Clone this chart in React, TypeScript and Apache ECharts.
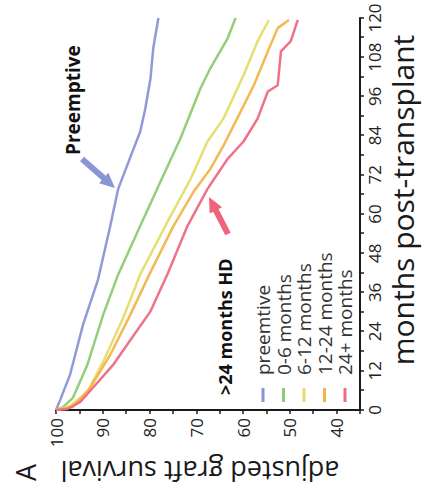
import React, { useEffect, useRef } from "react";
import * as echarts from "echarts";

// Data read from the (rotated) reference: [month, adjusted graft survival %]
const seriesNames = ["preemtive", "0-6 months", "6-12 months", "12-24 months", "24+ months"];
const seriesColors = ["#8b95d5", "#8ecb74", "#e6dc6a", "#f2b54a", "#ef6a82"];

const preemptive: number[][] = [
  [0, 100], [3.1, 99.1], [10.8, 97.0], [26.2, 94.2], [40, 91.0], [56.3, 88.4],
  [67.7, 86.7], [74.8, 84.8], [81.5, 83.0], [85.2, 82.0], [92.3, 80.9],
  [101.5, 79.8], [110.8, 79.2], [120, 78.1],
];
const hd0to6: number[][] = [
  [0, 100], [0.9, 98.5], [3.7, 96.4], [13.8, 93.3], [29.2, 89.9], [41.5, 86.7],
  [56.3, 82.0], [69.8, 77.7], [83.1, 73.4], [98.5, 69.1], [104.6, 67.0],
  [113.8, 63.3], [120, 61.6],
];
const hd6to12: number[][] = [
  [0, 100], [1.2, 97.0], [5.5, 93.3], [14.8, 89.9], [28.3, 85.6], [41.5, 82.0],
  [57.5, 76.2], [70.8, 71.2], [82.2, 67.6], [89.2, 64.2], [102.5, 59.9],
  [112.9, 56.9], [119.4, 54.5],
];
const hd12to24: number[][] = [
  [0, 100], [0.9, 96.4], [6.8, 92.7], [16.9, 88.4], [29.2, 84.1], [42.2, 79.8],
  [56.3, 74.9], [66.8, 70.6], [73.8, 67.0], [80.9, 64.2], [91.4, 60.5],
  [99.4, 57.7], [109.8, 54.7], [116.9, 52.6], [119.4, 50.2],
];
const hd24plus: number[][] = [
  [0, 100], [0.3, 97.6], [2.5, 94.8], [6.8, 92.1], [13.8, 87.8], [20, 84.8],
  [30.2, 79.8], [41.5, 76.2], [56.3, 71.9], [67.7, 67.6], [76.9, 63.3],
  [82.2, 59.9], [89.2, 56.9], [97.5, 54.7], [99.4, 52.6], [109.8, 51.9],
  [112.9, 49.8], [119.4, 48.3],
];
const allSeries = [preemptive, hd0to6, hd6to12, hd12to24, hd24plus];

const FONT = "'Open Sans', 'Noto Sans', sans-serif";
const W = 496;
const H = 424;

function arrowPoints(tail: number[], tip: number[], shaft: number, headW: number, headL: number) {
  const dx = tip[0] - tail[0];
  const dy = tip[1] - tail[1];
  const len = Math.hypot(dx, dy);
  const ux = dx / len, uy = dy / len;
  const nx = -uy, ny = ux;
  const bx = tip[0] - ux * headL, by = tip[1] - uy * headL;
  return [
    [tail[0] + nx * shaft / 2, tail[1] + ny * shaft / 2],
    [bx + nx * shaft / 2, by + ny * shaft / 2],
    [bx + nx * headW / 2, by + ny * headW / 2],
    [tip[0], tip[1]],
    [bx - nx * headW / 2, by - ny * headW / 2],
    [bx - nx * shaft / 2, by - ny * shaft / 2],
    [tail[0] - nx * shaft / 2, tail[1] - ny * shaft / 2],
  ];
}

export default function App() {
  const ref = useRef<HTMLDivElement>(null);
  useEffect(() => {
    if (!ref.current) return;
    const chart = echarts.init(ref.current, null, { renderer: "svg" });
    chart.setOption({
      animation: false,
      backgroundColor: "#ffffff",
      grid: { left: 86, right: 18, top: 56, bottom: 64, containLabel: false },
      xAxis: {
        type: "value",
        min: 0,
        max: 120,
        interval: 6,
        name: "months post-transplant",
        nameLocation: "middle",
        nameGap: 26,
        nameTextStyle: { fontSize: 30, color: "#1a1a1a", fontFamily: FONT, padding: [0, 0, 0, 28] },
        axisLine: { show: true, lineStyle: { color: "#1a1a1a", width: 2 } },
        axisTick: { show: true, length: 4, lineStyle: { color: "#1a1a1a", width: 1.5 } },
        axisLabel: {
          fontSize: 17, color: "#222", fontFamily: FONT, margin: 6,
          formatter: (v: number) => (v % 12 === 0 ? String(v) : ""),
        },
        splitLine: { show: false },
      },
      yAxis: {
        type: "value",
        min: 35,
        max: 100,
        interval: 5,
        name: "adjusted graft survival",
        nameLocation: "middle",
        nameGap: 45,
        nameTextStyle: { fontSize: 27, color: "#1a1a1a", fontFamily: FONT, padding: [0, 0, 0, 16] },
        axisLine: { show: true, lineStyle: { color: "#1a1a1a", width: 2 } },
        axisTick: { show: true, length: 4, lineStyle: { color: "#1a1a1a", width: 1.5 } },
        axisLabel: {
          fontSize: 17, color: "#222", fontFamily: FONT, margin: 8,
          formatter: (v: number) => (v % 10 === 0 ? String(v) : ""),
        },
        splitLine: { show: false },
      },
      legend: {
        orient: "vertical",
        left: 94,
        top: 253,
        icon: "rect",
        itemWidth: 14,
        itemHeight: 3,
        itemGap: 0.5,
        padding: 0,
        data: seriesNames,
        textStyle: { fontSize: 19, lineHeight: 20, color: "#333", fontFamily: FONT, padding: [0, 0, 0, 8] },
      },
      series: allSeries.map((d, i) => ({
        name: seriesNames[i],
        type: "line",
        data: d,
        showSymbol: false,
        symbol: "none",
        lineStyle: { width: 2.5, color: seriesColors[i], opacity: 0.95 },
        itemStyle: { color: seriesColors[i] },
        z: 2 + i,
      })),
      graphic: [
        {
          type: "text", x: 15, y: 25,
          style: { text: "A", fontSize: 27, fontFamily: FONT, fill: "#1a1a1a", verticalAlign: "middle" },
        },
        {
          type: "text", x: 341, y: 73,
          style: { text: "Preemptive", fontSize: 19, fontWeight: "bold", fontFamily: FONT, fill: "#111", verticalAlign: "middle" },
        },
        {
          type: "text", x: 101, y: 225,
          style: { text: ">24 months HD", fontSize: 18, fontWeight: "bold", fontFamily: FONT, fill: "#111", verticalAlign: "middle" },
        },
        {
          type: "polygon",
          shape: { points: arrowPoints([337, 82], [308, 115], 6, 14, 15) },
          style: { fill: "#8a95d6" },
        },
        {
          type: "polygon",
          shape: { points: arrowPoints([262, 228], [299, 209], 6, 14, 15) },
          style: { fill: "#f0637d" },
        },
      ],
    });
    return () => chart.dispose();
  }, []);

  return (
    <div style={{ position: "absolute", left: 0, top: 0, width: 424, height: 496, overflow: "hidden", background: "#fff" }}>
      <div
        style={{
          width: W,
          height: H,
          transform: `translateY(${W}px) rotate(-90deg)`,
          transformOrigin: "0 0",
        }}
      >
        <div ref={ref} style={{ width: W, height: H }} />
      </div>
    </div>
  );
}
